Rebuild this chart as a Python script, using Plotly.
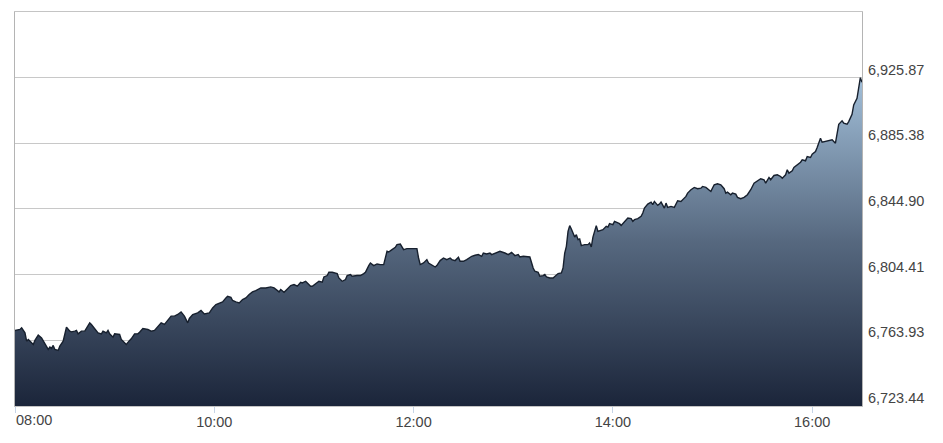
import pandas as pd
import plotly.graph_objects as go

# minutes after 08:00 and index values
minutes = (
    [0, 3, 4, 6, 7, 8, 10, 11, 12, 14, 16, 17, 18, 20, 21, 22, 23, 24, 26, 27,
     29, 30, 31, 33, 34, 36, 37, 38, 40, 42, 43, 45, 46, 48, 50, 52, 53, 55, 56, 57,
     59, 60, 61, 63, 64, 66, 67, 69, 70, 72, 74]
    + [75, 77, 80, 82, 84, 86, 88, 90, 92, 94, 96, 98, 100, 102, 104, 105, 107, 110, 112, 114,
       117, 119, 121, 123, 125, 127, 128, 130, 131, 133, 135, 137, 139, 141, 143, 145, 147]
    + [148, 151, 154, 156, 157, 159, 160, 162, 164, 166, 168, 170, 172, 173, 175, 176, 178, 179, 181, 183,
       185, 186, 188, 189, 191, 194, 195, 197, 199, 200, 202, 203, 206, 208, 210, 211, 213, 214, 216, 217]
    + [218, 220, 222, 224, 225, 227, 229, 230, 232, 234, 236, 238, 240, 242, 243, 244, 246, 248, 249, 251,
       253, 254, 256, 258, 260, 262, 263, 265, 267, 268, 270, 272, 275, 277, 279, 281, 282, 284, 286, 287,
       289, 290]
    + [292, 295, 297, 299, 301, 303, 304, 306, 309, 310, 312, 313, 315, 316, 318, 319, 320, 322, 324, 325,
       327, 329, 330, 331, 332, 333, 334, 335, 336, 337, 338, 339, 340, 341, 343, 345, 346, 347, 348, 350,
       351, 353, 354, 356, 357, 358, 360, 361, 363, 364]
    + [365, 367, 369, 371, 372, 373, 375, 377, 378, 379, 381, 383, 384, 385, 387, 388, 389, 391, 392, 393,
       395, 397, 398, 399, 401, 403, 404, 405, 407, 409, 411, 413, 414, 416, 417, 419, 421, 423, 425, 427,
       428, 429, 431, 432, 434, 435]
    + [437, 439, 441, 443, 445, 447, 449, 451, 452, 454, 455, 457, 459, 461, 462, 464, 465, 466, 468, 469,
       471, 473, 474, 476, 477, 479, 480, 482, 483, 484, 485, 486, 488, 489, 491, 492, 494, 495, 496, 498,
       499, 501, 502, 504, 505, 507, 508, 509, 510]
)

values = (
    [6770.02, 6770.63, 6771.62, 6768.54, 6763.43, 6764.48, 6762.39, 6761.40, 6763.87, 6767.13,
     6765.46, 6763.43, 6761.40, 6758.33, 6759.74, 6758.94, 6760.79, 6758.33, 6757.71, 6760.36,
     6763.43, 6768.54, 6772.05, 6769.59, 6769.16, 6769.59, 6770.02, 6767.93, 6769.59, 6769.59,
     6771.62, 6774.69, 6773.71, 6771.25, 6768.54, 6767.93, 6769.59, 6768.54, 6770.02, 6767.93,
     6765.90, 6767.93, 6767.93, 6767.56, 6764.48, 6762.39, 6761.40, 6763.87, 6764.85, 6767.93,
     6767.93]
    + [6768.97, 6771.25, 6770.63, 6769.59, 6770.02, 6772.66, 6774.69, 6773.71, 6776.17, 6778.82,
       6778.82, 6779.86, 6781.46, 6778.82, 6774.69, 6777.40, 6779.86, 6780.85, 6782.32, 6780.23,
       6780.85, 6783.92, 6786.02, 6787.00, 6787.62, 6790.08, 6791.12, 6790.51, 6788.48, 6787.62,
       6787.00, 6789.09, 6790.08, 6792.17, 6793.77, 6794.63, 6795.86]
    + [6796.23, 6796.23, 6796.85, 6796.23, 6795.25, 6793.77, 6795.25, 6793.58, 6795.61, 6797.71,
       6798.32, 6797.28, 6799.74, 6799.31, 6800.35, 6799.31, 6797.28, 6797.28, 6798.94, 6800.35,
       6799.74, 6803.00, 6803.86, 6805.89, 6805.89, 6805.09, 6802.38, 6800.35, 6801.40, 6803.86,
       6804.48, 6803.43, 6803.86, 6803.86, 6805.09, 6805.89, 6810.01, 6811.61, 6810.01, 6810.63]
    + [6811.00, 6810.63, 6810.63, 6818.81, 6818.38, 6819.86, 6821.27, 6822.93, 6823.30, 6819.86,
       6820.47, 6820.47, 6820.47, 6820.47, 6814.69, 6810.63, 6811.61, 6813.70, 6811.61, 6810.63,
       6809.15, 6810.01, 6813.09, 6814.69, 6813.70, 6814.69, 6813.70, 6813.09, 6815.12, 6812.66,
       6812.66, 6813.70, 6815.74, 6816.35, 6816.78, 6815.74, 6817.77, 6817.15, 6817.77, 6816.78,
       6817.77, 6818.20]
    + [6818.81, 6817.77, 6816.78, 6818.20, 6816.17, 6816.78, 6815.30, 6815.74, 6815.74, 6815.30,
       6808.54, 6806.51, 6805.89, 6803.43, 6803.86, 6804.48, 6803.00, 6802.38, 6802.38, 6803.43,
       6805.09, 6805.46, 6808.54, 6817.77, 6821.89, 6831.12, 6834.62, 6832.53, 6830.07, 6827.61,
       6829.09, 6826.01, 6826.38, 6822.32, 6822.93, 6822.93, 6823.92, 6821.46, 6827.61, 6834.62,
       6831.12, 6831.73, 6832.16, 6834.19, 6833.76, 6835.86, 6835.24, 6837.27, 6836.22, 6835.86]
    + [6834.81, 6837.27, 6839.30, 6838.93, 6837.27, 6838.32, 6838.93, 6840.35, 6842.38, 6845.45,
       6847.92, 6849.15, 6847.55, 6849.58, 6847.12, 6847.92, 6849.15, 6845.45, 6848.53, 6845.88,
       6846.50, 6845.88, 6847.92, 6850.01, 6849.58, 6852.04, 6852.65, 6854.68, 6856.78, 6858.19,
       6857.39, 6857.76, 6858.81, 6858.19, 6857.39, 6855.73, 6859.85, 6860.47, 6859.85, 6857.39,
       6854.68, 6855.30, 6853.70, 6854.68, 6854.07, 6852.04]
    + [6851.24, 6852.04, 6853.70, 6856.78, 6860.84, 6862.31, 6863.54, 6862.93, 6860.84, 6864.34,
       6862.93, 6865.57, 6866.00, 6864.96, 6863.91, 6866.00, 6869.08, 6866.99, 6868.47, 6870.50,
       6872.16, 6873.76, 6875.24, 6874.62, 6877.27, 6876.65, 6878.68, 6880.34, 6882.80, 6886.49,
       6888.53, 6886.06, 6886.49, 6886.49, 6886.93, 6887.54, 6885.45, 6892.65, 6897.14, 6899.23,
       6897.76, 6897.14, 6898.80, 6903.29, 6909.08, 6913.14, 6920.34, 6925.87, 6922.98]
)
assert len(minutes) == len(values)

y_ticks = [6723.44, 6763.93, 6804.41, 6844.90, 6885.38, 6925.87]
y_top = 6966.35
x_tick_labels = ["08:00", "10:00", "12:00", "14:00", "16:00"]

day = "2024-01-02 "
base = pd.Timestamp(day + "08:00")
times = base + pd.to_timedelta(minutes, unit="min")
x_tick_vals = [pd.Timestamp(day + t) for t in x_tick_labels]

FONT = "Liberation Sans, Arial, sans-serif"

fig = go.Figure()
fig.add_trace(go.Scatter(
    x=times, y=values, mode="lines",
    line=dict(color="#17202e", width=1.4),
    fill="tozeroy",
    fillgradient=dict(type="vertical",
                      colorscale=[[0, "#1b253a"], [0.5, "#56687f"], [1, "#a2bfd9"]],
                      start=y_ticks[0], stop=y_ticks[-1]),
    hoverinfo="skip",
))

# the page body adds an 8px offset, so margins are reduced to compensate
fig.update_layout(
    width=935, height=436,
    margin=dict(l=7, r=81, t=4, b=38),
    paper_bgcolor="white", plot_bgcolor="white",
    showlegend=False,
    font=dict(family=FONT, size=14.5, color="#444444"),
    xaxis=dict(
        type="date",
        range=[base, base + pd.Timedelta(minutes=510)],
        tickvals=x_tick_vals,
        ticktext=[""] + x_tick_labels[1:],
        ticks="outside", ticklen=6, tickcolor="#c6d4e6", tickwidth=1,
        ticklabelstandoff=-3,
        showgrid=False, zeroline=False,
        showline=True, linecolor="#c4c4c4", linewidth=1, mirror=True,
        fixedrange=True,
    ),
    yaxis=dict(
        side="right",
        range=[y_ticks[0], y_top],
        tickvals=y_ticks,
        tickformat=",.2f",
        ticks="",
        ticklabelstandoff=2,
        ticklabelshift=-8,
        showgrid=True, gridcolor="#c8c8c8", gridwidth=1,
        zeroline=False,
        showline=True, linecolor="#b4b4b4", linewidth=1, mirror=True,
        fixedrange=True,
    ),
    annotations=[dict(
        x=x_tick_vals[0], xref="x", y=0, yref="paper",
        text=x_tick_labels[0], showarrow=False,
        xanchor="left", yanchor="top", yshift=-4, xshift=-1,
        font=dict(family=FONT, size=14.5, color="#444444"),
    )],
)

fig.write_html("out.html")
